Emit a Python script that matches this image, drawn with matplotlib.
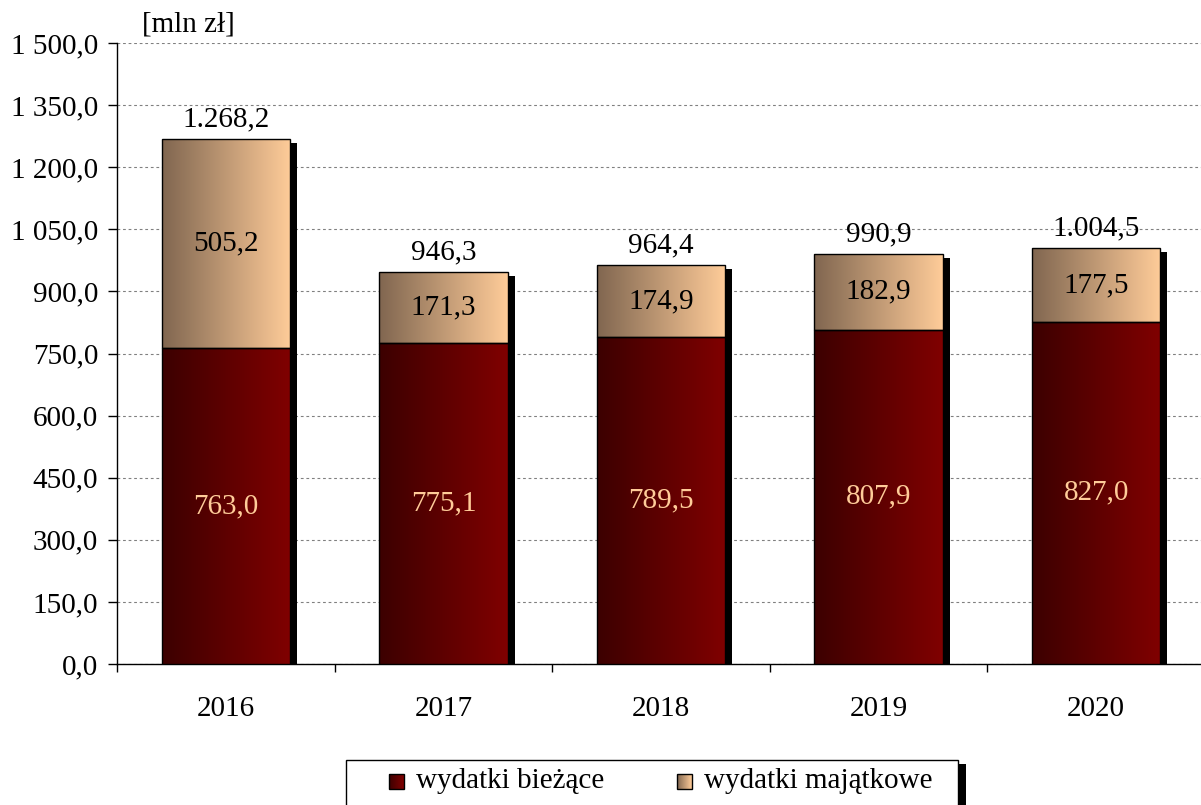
import numpy as np
import matplotlib
matplotlib.use('Agg')
import matplotlib.pyplot as plt
from matplotlib.colors import LinearSegmentedColormap
from matplotlib.patches import Rectangle
from matplotlib.transforms import ScaledTranslation
from matplotlib.ticker import FuncFormatter

# --- Dane (mln zł) ---
years = ['2016', '2017', '2018', '2019', '2020']
wydatki_biezace = [763.0, 775.1, 789.5, 807.9, 827.0]
wydatki_majatkowe = [505.2, 171.3, 174.9, 182.9, 177.5]
razem = [1268.2, 946.3, 964.4, 990.9, 1004.5]
y_ticks = np.arange(0, 1501, 150)

plt.rcParams['font.family'] = ['Liberation Serif', 'DejaVu Serif']
plt.rcParams['font.size'] = 21

cm_biezace = LinearSegmentedColormap.from_list('biezace', ['#3c0000', '#800000'])
cm_majatkowe = LinearSegmentedColormap.from_list('majatkowe', ['#806650', '#FFCC99'])


def pl_num(v, sep=' '):
    # 1268.2 -> "1 268,2" (albo "1.268,2")
    s = f'{v:,.1f}'
    return s.replace(',', 'X').replace('.', ',').replace('X', sep)


fig = plt.figure(figsize=(12.01, 8.05), dpi=100)
ax = fig.add_axes([117 / 1201, 141 / 805, 1088 / 1201, 621 / 805])

x = np.arange(len(years))
width = 0.59
biezace = np.array(wydatki_biezace)
majatkowe = np.array(wydatki_majatkowe)
grad = np.linspace(0, 1, 256).reshape(1, -1)

# cień pod słupkami (przesunięty w prawo i w dół)
shadow = ScaledTranslation(7 / 100, -4 / 100, fig.dpi_scale_trans)
ax.bar(x, biezace + majatkowe, width, color='black', linewidth=0,
       transform=ax.transData + shadow, zorder=2)


def gradient_bars(bottoms, heights, cmap):
    bars = ax.bar(x, heights, width, bottom=bottoms, facecolor='none',
                  edgecolor='black', linewidth=1, zorder=4)
    for b in bars:
        x0, y0 = b.get_xy()
        im = ax.imshow(grad, cmap=cmap, aspect='auto', interpolation='bilinear',
                       extent=[x0, x0 + b.get_width(), y0, y0 + b.get_height()], zorder=3)
        im.set_clip_path(b)
    return bars


gradient_bars(0, biezace, cm_biezace)
gradient_bars(biezace, majatkowe, cm_majatkowe)

# etykiety wartości
for i in range(len(years)):
    ax.text(x[i], biezace[i] / 2, pl_num(biezace[i]), ha='center', va='center',
            color='#FFCC99', zorder=6)
    ax.text(x[i], biezace[i] + majatkowe[i] / 2, pl_num(majatkowe[i]), ha='center',
            va='center', color='black', zorder=6)
    ax.annotate(pl_num(razem[i], '.'), (x[i], biezace[i] + majatkowe[i]),
                xytext=(0, 9), textcoords='offset points', ha='center',
                va='baseline', zorder=6)

ax.set_xlim(-0.5, len(years) - 0.5)
ax.set_ylim(0, 1500)
ax.set_yticks(y_ticks)
ax.yaxis.set_major_formatter(FuncFormatter(lambda v, p: pl_num(v)))
ax.yaxis.grid(True, linestyle=(0, (2.5, 2.5)), color='#808080', linewidth=0.8)
ax.set_axisbelow(True)

ax.set_xticks(x)
ax.set_xticklabels(years)
ax.set_xticks(np.arange(-0.5, len(years)), minor=True)
ax.tick_params(axis='x', which='major', length=0, pad=23)
ax.tick_params(axis='x', which='minor', length=6, width=1, direction='out')
ax.tick_params(axis='y', length=6.5, width=1, direction='out', pad=7)
for side in ['top', 'right']:
    ax.spines[side].set_visible(False)
for side in ['left', 'bottom']:
    ax.spines[side].set_linewidth(1)

fig.text(142 / 1201, 1 - 25 / 805, '[mln zł]', ha='left', va='center')

# --- legenda rysowana ręcznie (ramka z cieniem) ---
lax = fig.add_axes([0, 0, 1, 1], zorder=5)
lax.add_patch(Rectangle((958, 764), 8, 60, facecolor='black', linewidth=0))
lax.add_patch(Rectangle((346, 760), 612, 60, facecolor='white', edgecolor='black', linewidth=1))
for x0, cmap, label in [(389, cm_biezace, 'wydatki bieżące'),
                        (677, cm_majatkowe, 'wydatki majątkowe')]:
    lax.imshow(grad, cmap=cmap, aspect='auto', extent=[x0, x0 + 15, 789, 774], zorder=3)
    lax.add_patch(Rectangle((x0, 774), 15, 15, facecolor='none', edgecolor='black',
                            linewidth=1, zorder=4))
    lax.text(x0 + 27, 781, label, ha='left', va='center', zorder=4)
lax.set_xlim(0, 1201)
lax.set_ylim(805, 0)
lax.axis('off')

fig.savefig('out.png', dpi=100)
